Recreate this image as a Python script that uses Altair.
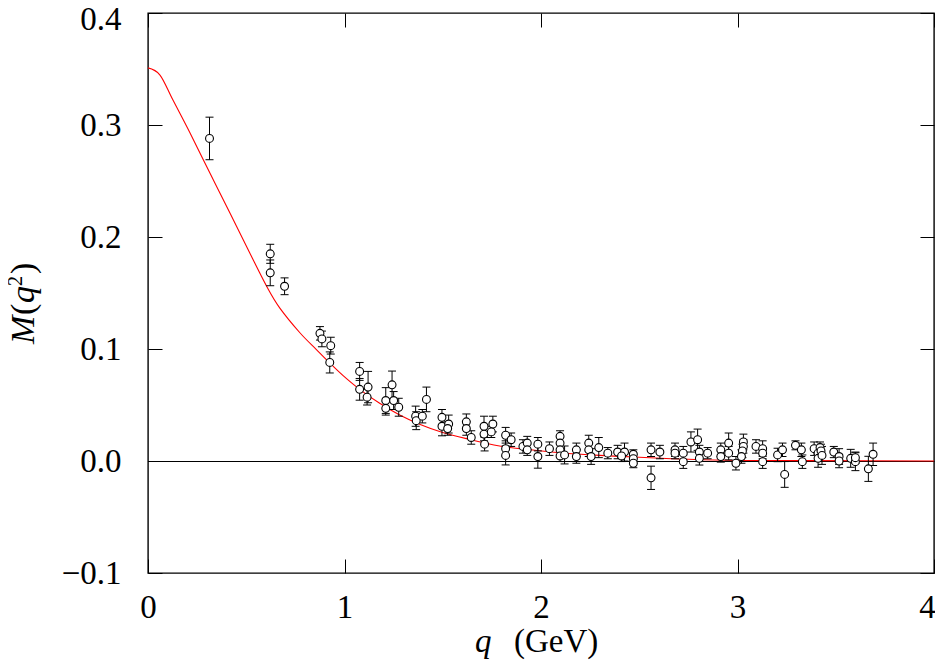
import altair as alt
import pandas as pd

# ---- data ----
q_pts = [0.313, 0.622, 0.622, 0.695, 0.875, 0.885, 0.930, 0.925, 1.077, 1.077,
         1.120, 1.115, 1.242, 1.210, 1.250, 1.276, 1.210, 1.362, 1.365, 1.396,
         1.417, 1.496, 1.496, 1.530, 1.525, 1.620, 1.620, 1.645, 1.710, 1.710,
         1.713, 1.755, 1.747, 1.820, 1.820, 1.820, 1.848, 1.908, 1.930, 1.930,
         1.984, 1.984, 2.043, 2.097, 2.097, 2.097, 2.097, 2.120, 2.180, 2.180,
         2.243, 2.243, 2.255, 2.294, 2.340, 2.390, 2.425, 2.410, 2.470, 2.470,
         2.470, 2.560, 2.560, 2.605, 2.682, 2.682, 2.724, 2.724, 2.763, 2.797,
         2.806, 2.806, 2.848, 2.915, 2.915, 2.955, 2.955, 2.992, 3.030, 3.030,
         3.025, 3.020, 3.094, 3.128, 3.128, 3.128, 3.204, 3.229, 3.240, 3.295,
         3.325, 3.330, 3.390, 3.410, 3.410, 3.420, 3.425, 3.430, 3.490, 3.517,
         3.517, 3.576, 3.600, 3.600, 3.666, 3.690]
m_pts = [0.288, 0.185, 0.168, 0.156, 0.114, 0.109, 0.103, 0.088, 0.080, 0.064,
         0.066, 0.057, 0.068, 0.054, 0.054, 0.048, 0.047, 0.040, 0.036, 0.040,
         0.055, 0.039, 0.031, 0.033, 0.029, 0.035, 0.029, 0.021, 0.031, 0.024,
         0.015, 0.033, 0.026, 0.023, 0.011, 0.005, 0.019, 0.013, 0.016, 0.010,
         0.015, 0.004, 0.011, 0.022, 0.016, 0.010, 0.0045, 0.0054, 0.010, 0.004,
         0.016, 0.010, 0.004, 0.012, 0.007, 0.008, 0.008, 0.0045, 0.006, 0.002,
         -0.002, 0.010, -0.015, 0.008, 0.010, 0.007, 0.007, -0.0006, 0.017, 0.019,
         0.008, 0.0024, 0.007, 0.010, 0.004, 0.016, 0.007, -0.002, 0.017, 0.013,
         0.009, 0.004, 0.013, 0.011, 0.007, -0.0006, 0.0054, 0.010, -0.012, 0.014,
         0.010, -0.0006, 0.011, 0.007, 0.0024, 0.012, 0.009, 0.005, 0.008, 0.004,
         0.000, 0.0024, -0.0006, 0.003, -0.007, 0.006]
m_err = [0.019, 0.0085, 0.0115, 0.0075, 0.006, 0.007, 0.0075, 0.0094, 0.008, 0.0097,
         0.014, 0.007, 0.0123, 0.0115, 0.008, 0.008, 0.006, 0.009, 0.008, 0.006,
         0.011, 0.007, 0.0085, 0.008, 0.006, 0.007, 0.006, 0.006, 0.009, 0.006,
         0.006, 0.007, 0.005, 0.007, 0.007, 0.0085, 0.006, 0.006, 0.006, 0.005,
         0.006, 0.0104, 0.006, 0.005, 0.005, 0.005, 0.005, 0.008, 0.006, 0.006,
         0.007, 0.006, 0.007, 0.009, 0.005, 0.006, 0.008, 0.005, 0.004, 0.004,
         0.004, 0.006, 0.0104, 0.006, 0.006, 0.005, 0.006, 0.006, 0.009, 0.0095,
         0.006, 0.006, 0.005, 0.006, 0.005, 0.009, 0.006, 0.006, 0.007, 0.006,
         0.006, 0.006, 0.006, 0.007, 0.005, 0.006, 0.006, 0.006, 0.0115, 0.004,
         0.006, 0.006, 0.006, 0.007, 0.008, 0.005, 0.006, 0.008, 0.005, 0.007,
         0.006, 0.008, 0.008, 0.005, 0.0112, 0.010]

curve_q = [0.0, 0.061, 0.127, 0.214, 0.315, 0.417, 0.518, 0.610, 0.671, 0.773,
           0.857, 0.925, 0.993, 1.077, 1.179, 1.281, 1.382, 1.484, 1.620, 1.789,
           1.959, 2.094, 2.300, 2.500, 2.750, 3.000, 3.350, 4.000]
curve_m = [0.351, 0.3446, 0.3223, 0.2929, 0.2571, 0.2214, 0.1857, 0.1540, 0.1365, 0.1145,
           0.0995, 0.0875, 0.0762, 0.0640, 0.0515, 0.0410, 0.0328, 0.0264, 0.0200, 0.0134,
           0.0098, 0.0074, 0.0050, 0.0033, 0.0015, 0.0005, 0.0003, 0.0]

x_ticks = [0, 1, 2, 3, 4]
y_ticks = [-0.1, 0.0, 0.1, 0.2, 0.3, 0.4]

pts = pd.DataFrame({"q": q_pts, "m": m_pts, "e": m_err})
pts["lo"] = pts["m"] - pts["e"]
pts["hi"] = pts["m"] + pts["e"]
curve = pd.DataFrame({"q": curve_q, "m": curve_m})
one = pd.DataFrame({"z": [0.0]})

FONT = "Liberation Serif"
FS = 33
xs = alt.Scale(domain=[0, 4], nice=False, zero=False)
ys = alt.Scale(domain=[-0.1, 0.4], nice=False, zero=False)

tick_common = dict(domain=False, grid=False, ticks=True, tickSize=14, offset=-14,
                   tickColor="black", tickWidth=1, title=None)

x_bottom = alt.Axis(orient="bottom", values=x_ticks, format="d", labelPadding=18,
                    labelFont=FONT, labelFontSize=FS, labelColor="black",
                    labelOverlap=False, labelFlush=False,
                    labelOffset={"condition": {"test": "datum.value > 3.5", "value": -7},
                                 "value": 0},
                    **tick_common)
y_left = alt.Axis(orient="left", values=y_ticks, format=".1f", labelPadding=27,
                  labelFont=FONT, labelFontSize=FS, labelColor="black",
                  labelOverlap=False, labelFlush=False,
                  labelOffset={"condition": {"test": "datum.value > 0.35", "value": 6},
                               "value": 0},
                  **tick_common)
x_top = alt.Axis(orient="top", values=x_ticks, labels=False, **tick_common)
y_right = alt.Axis(orient="right", values=y_ticks, labels=False, **tick_common)

zero_line = alt.Chart(one).mark_rule(color="black", strokeWidth=1, yOffset=0.5).encode(
    y=alt.Y("z:Q", scale=ys, axis=None))

curve_line = alt.Chart(curve).mark_line(color="#ff0000", strokeWidth=1.1,
                                        interpolate="cardinal").encode(
    x=alt.X("q:Q", scale=xs, axis=x_top),
    y=alt.Y("m:Q", scale=ys, axis=y_right))

bars = alt.Chart(pts).mark_rule(color="black", strokeWidth=1).encode(
    x=alt.X("q:Q", scale=xs, axis=None),
    y=alt.Y("lo:Q", scale=ys, axis=None),
    y2="hi:Q")

cap_lo = alt.Chart(pts).mark_tick(color="black", orient="horizontal", size=8,
                                  thickness=1, opacity=1).encode(
    x=alt.X("q:Q", scale=xs, axis=None),
    y=alt.Y("lo:Q", scale=ys, axis=None))
cap_hi = alt.Chart(pts).mark_tick(color="black", orient="horizontal", size=8,
                                  thickness=1, opacity=1).encode(
    x=alt.X("q:Q", scale=xs, axis=None),
    y=alt.Y("hi:Q", scale=ys, axis=None))

points = alt.Chart(pts).mark_point(shape="circle", size=62, fill="white",
                                   stroke="black", strokeWidth=1.1, opacity=1,
                                   fillOpacity=1).encode(
    x=alt.X("q:Q", scale=xs, axis=x_bottom),
    y=alt.Y("m:Q", scale=ys, axis=y_left))


def label(txt, x, y, italic=False, angle=0, size=FS):
    kw = dict(text=txt, font=FONT, fontSize=size, color="black",
              align="left", baseline="alphabetic")
    if italic:
        kw["fontStyle"] = "italic"
    if angle:
        kw["angle"] = angle
    return alt.Chart(one).mark_text(**kw).encode(x=alt.value(x), y=alt.value(y))


# x title: q (GeV)
xt_q = label("q", 327, 639, italic=True)
xt_gev = label("(GeV)", 366, 639)
# y title: M(q^2), rotated
bx = -114
YS = 34
yt_m = label("M", bx, 331, italic=True, angle=270, size=YS)
yt_p1 = label("(", bx, 302, angle=270, size=YS)
yt_q = label("q", bx, 290, italic=True, angle=270, size=YS)
yt_sq = label("2", bx - 12, 273, angle=270, size=20)
yt_p2 = label(")", bx, 261, angle=270, size=YS)

chart = alt.layer(
    zero_line, curve_line, bars, cap_lo, cap_hi, points,
    xt_q, xt_gev, yt_m, yt_p1, yt_q, yt_sq, yt_p2
).resolve_axis(x="independent", y="independent").properties(
    width=786, height=560,
    padding={"left": 140, "top": 5, "right": 1, "bottom": 90},
    autosize=alt.AutoSizeParams(type="none"),
    background="white",
).configure_view(stroke="black", strokeWidth=1.4)

chart.save("out.html", embed_options={"renderer": "svg", "actions": False})
